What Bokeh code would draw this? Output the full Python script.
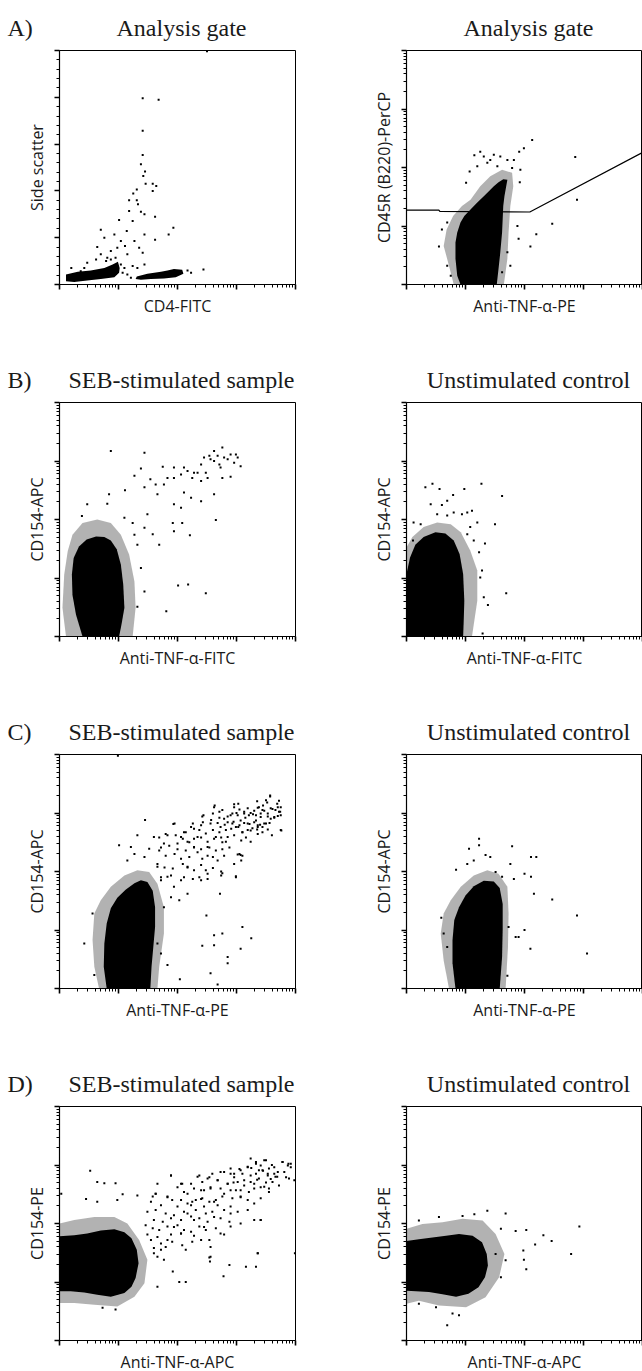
from bokeh.plotting import figure
from bokeh.layouts import column, row
from bokeh.models import FixedTicker, CustomJSTickFormatter, Range1d
from bokeh.core.properties import value
from bokeh.embed import file_html
from bokeh.resources import INLINE

# ---------------- texts ----------------
PANEL_LETTERS = ["A)", "B)", "C)", "D)"]
LEFT_TITLES = ["Analysis gate", "SEB-stimulated sample", "SEB-stimulated sample", "SEB-stimulated sample"]
RIGHT_TITLES = ["Analysis gate", "Unstimulated control", "Unstimulated control", "Unstimulated control"]
X_LABELS_LEFT = ["CD4-FITC", "Anti-TNF-\u03b1-FITC", "Anti-TNF-\u03b1-PE", "Anti-TNF-\u03b1-APC"]
X_LABELS_RIGHT = ["Anti-TNF-\u03b1-PE", "Anti-TNF-\u03b1-FITC", "Anti-TNF-\u03b1-PE", "Anti-TNF-\u03b1-APC"]
Y_LABELS_LEFT = ["Side scatter", "CD154-APC", "CD154-APC", "CD154-PE"]
Y_LABELS_RIGHT = ["CD45R (B220)-PerCP", "CD154-APC", "CD154-APC", "CD154-PE"]

# ---------------- data (fluorescence in log10 decades; side scatter linear) ----------------
# A left: CD4-FITC (log) vs side scatter (linear 0-1000)
A_L_core1_x = [0.11, 0.31, 0.53, 0.76, 0.90, 0.99, 1.02, 1.01, 0.93, 0.70, 0.47, 0.25, 0.11]
A_L_core1_y = [43, 54, 60, 71, 86, 97, 71, 50, 31, 23, 17, 11, 14]
A_L_core2_x = [1.31, 1.49, 1.72, 1.83, 1.94, 2.08, 2.10, 1.97, 1.77, 1.55, 1.38, 1.29]
A_L_core2_y = [34, 46, 54, 60, 66, 63, 46, 31, 26, 23, 20, 23]
A_L_dots_x = [1.41, 1.68, 1.41, 1.41, 1.38, 1.45, 1.42, 1.46, 1.58, 1.64, 1.58, 1.31, 1.25, 1.18, 1.31,
              1.33, 1.18, 1.38, 1.44, 1.62, 1.01, 0.70, 1.93, 1.85, 1.62, 1.14, 1.24, 1.04, 0.76, 0.64,
              0.93, 0.98, 1.11, 1.27, 1.35, 1.44, 1.41, 1.15, 0.81, 0.87, 0.95, 1.04, 1.10, 1.24, 1.32,
              1.44, 2.23, 2.44, 0.47, 0.36, 0.20, 0.70, 0.79, 0.62, 0.98, 1.07, 1.15, 1.21, 2.17, 2.50,
              0.42, 0.87]
A_L_dots_y = [796, 790, 657, 553, 514, 483, 464, 431, 431, 421, 400, 406, 389, 360, 360,
              343, 314, 311, 300, 289, 276, 234, 243, 214, 191, 229, 271, 186, 200, 160,
              214, 157, 164, 186, 157, 214, 136, 129, 114, 143, 114, 86, 71, 79, 71,
              86, 50, 64, 93, 57, 71, 129, 100, 107, 57, 50, 43, 29, 60, 997,
              71, 107]

# A right: Anti-TNF-a-PE vs CD45R(B220)-PerCP
A_R_gate_x = [0.0, 0.548, 0.565, 2.09, 4.0]
A_R_gate_y = [1.273, 1.273, 1.25, 1.239, 2.257]
A_R_core_x = [0.915, 0.86, 0.83, 0.83, 0.86, 0.915, 0.98, 1.085, 1.20, 1.31, 1.40, 1.48, 1.56, 1.64, 1.71,
              1.69, 1.66, 1.64, 1.63, 1.62, 1.59, 1.56, 1.53]
A_R_core_y = [0.0, 0.15, 0.44, 0.72, 0.89, 1.06, 1.17, 1.28, 1.40, 1.51, 1.60, 1.68, 1.75, 1.80, 1.79,
              1.68, 1.51, 1.34, 1.11, 0.89, 0.55, 0.27, 0.0]
A_R_fringe_x = [0.80, 0.72, 0.63, 0.68, 0.79, 0.94, 1.085, 1.25, 1.42, 1.62, 1.79, 1.81, 1.76, 1.73, 1.71, 1.65]
A_R_fringe_y = [0.0, 0.32, 0.66, 0.94, 1.17, 1.34, 1.45, 1.68, 1.85, 1.96, 1.91, 1.68, 1.34, 0.89, 0.44, 0.0]
A_R_dots_x = [0.55, 0.60, 0.69, 1.01, 1.15, 1.31, 1.48, 1.59, 1.71, 1.82, 1.91, 1.99, 2.13, 1.07, 1.20,
              1.37, 1.54, 1.79, 1.92, 1.88, 1.90, 2.20, 2.10, 2.47, 2.89, 2.86, 1.71, 1.76, 1.62, 0.69,
              0.75, 1.93, 1.25, 1.42]
A_R_dots_y = [0.65, 0.94, 1.06, 1.74, 2.21, 2.19, 2.22, 2.19, 2.13, 2.13, 2.27, 2.33, 2.47, 1.93, 2.02,
              2.08, 2.02, 1.99, 1.75, 1.00, 0.78, 0.86, 0.65, 1.04, 1.45, 2.18, 0.55, 0.32, 0.21, 0.32,
              0.15, 1.96, 2.27, 2.13]

# B left: SEB, Anti-TNF-a-FITC vs CD154-APC
B_L_core_x = [0.39, 0.28, 0.22, 0.21, 0.24, 0.33, 0.46, 0.62, 0.76, 0.87, 0.97, 1.04, 1.08, 1.10, 1.05, 1.01]
B_L_core_y = [0.0, 0.37, 0.71, 1.06, 1.34, 1.54, 1.66, 1.71, 1.70, 1.64, 1.49, 1.23, 0.89, 0.49, 0.20, 0.0]
B_L_fringe_x = [0.11, 0.05, 0.08, 0.14, 0.22, 0.39, 0.64, 0.87, 1.04, 1.18, 1.27, 1.29, 1.24]
B_L_fringe_y = [0.0, 0.49, 1.06, 1.46, 1.74, 1.94, 2.0, 1.94, 1.74, 1.40, 0.94, 0.49, 0.0]
B_L_dots_x = [0.87, 1.44, 1.38, 1.75, 1.27, 1.11, 1.44, 1.54, 1.63, 1.66, 1.83, 1.94, 2.06, 2.17, 2.25,
              2.34, 2.45, 2.54, 2.62, 2.71, 2.76, 2.79, 2.90, 2.96, 3.02, 3.07, 2.40, 2.51, 2.62, 2.76,
              2.90, 2.65, 2.40, 2.23, 2.11, 1.94, 2.06, 1.92, 2.08, 1.58, 1.69, 1.94, 2.21, 2.01, 2.18,
              2.48, 1.81, 1.44, 1.32, 0.47, 0.38, 0.81, 0.84, 1.10, 1.24, 1.49, 1.27, 1.44, 1.32, 1.38,
              2.56, 2.68, 2.85, 2.99, 2.73, 2.40, 2.28, 2.11, 1.94, 1.77, 2.62, 2.48]
B_L_dots_y = [3.17, 3.14, 2.87, 2.90, 2.75, 2.50, 2.55, 2.69, 2.60, 2.43, 2.71, 2.89, 2.77, 2.83, 2.71,
              2.80, 3.06, 3.09, 3.0, 2.94, 3.23, 3.06, 3.11, 2.97, 3.06, 2.91, 2.66, 2.71, 2.43, 2.71,
              2.73, 1.99, 2.31, 2.37, 2.46, 2.26, 2.20, 1.94, 1.94, 1.75, 1.57, 1.80, 1.73, 0.87, 0.89,
              0.74, 0.43, 0.77, 0.51, 2.26, 2.06, 2.27, 2.43, 2.03, 1.94, 2.09, 1.74, 1.86, 1.57, 1.17,
              3.03, 3.09, 3.03, 3.11, 2.89, 2.94, 2.80, 2.89, 2.71, 2.60, 3.17, 2.80]

# B right: unstimulated, Anti-TNF-a-FITC vs CD154-APC
B_R_core_x = [0.0, 0.0, 0.06, 0.15, 0.29, 0.49, 0.66, 0.80, 0.90, 0.96, 0.98, 0.97, 0.96]
B_R_core_y = [0.0, 1.07, 1.35, 1.57, 1.70, 1.78, 1.76, 1.64, 1.41, 1.07, 0.61, 0.27, 0.0]
B_R_fringe_x = [0.0, 0.0, 0.10, 0.29, 0.52, 0.75, 0.92, 1.08, 1.20, 1.20, 1.11]
B_R_fringe_y = [0.0, 1.52, 1.70, 1.87, 1.95, 1.92, 1.78, 1.47, 1.13, 0.61, 0.0]
B_R_dots_x = [0.32, 0.44, 0.56, 0.41, 0.60, 0.69, 0.79, 0.98, 1.27, 1.62, 1.11, 1.03, 0.94, 0.80, 0.69,
              0.52, 1.50, 1.33, 1.23, 1.28, 1.25, 1.31, 1.38, 1.29, 1.69, 1.14, 1.08, 1.20, 1.03, 0.24,
              0.12, 0.11]
B_R_dots_y = [2.55, 2.61, 2.52, 2.26, 2.25, 2.32, 2.42, 2.52, 2.61, 2.40, 2.15, 2.12, 2.09, 2.12, 2.07,
              2.09, 1.92, 1.59, 1.44, 1.13, 1.01, 0.67, 0.54, 0.05, 0.74, 1.64, 1.87, 1.95, 1.75, 1.92,
              1.95, 1.64]

# C left: SEB, Anti-TNF-a-PE vs CD154-APC
C_L_core_x = [0.80, 0.75, 0.76, 0.80, 0.87, 0.98, 1.12, 1.27, 1.38, 1.49, 1.58, 1.62, 1.62, 1.59, 1.56, 1.54]
C_L_core_y = [0.0, 0.37, 0.77, 1.11, 1.37, 1.55, 1.69, 1.80, 1.85, 1.82, 1.67, 1.39, 1.05, 0.71, 0.37, 0.0]
C_L_fringe_x = [0.67, 0.59, 0.56, 0.59, 0.70, 0.87, 1.10, 1.32, 1.52, 1.66, 1.77, 1.77, 1.69, 1.66]
C_L_fringe_y = [0.0, 0.37, 0.83, 1.28, 1.51, 1.74, 1.93, 2.02, 1.99, 1.79, 1.39, 0.94, 0.37, 0.0]
C_L_dots_x = [1.01, 1.32, 1.45, 1.21, 1.27, 1.15, 1.44, 1.52, 1.60, 1.69, 1.77, 1.83, 1.93, 2.0, 2.06,
              2.14, 2.20, 2.23, 2.28, 2.34, 2.40, 2.42, 2.48, 2.51, 2.56, 2.62, 2.65, 2.71, 2.73, 2.76,
              2.79, 2.85, 2.90, 2.96, 2.99, 3.03, 3.07, 3.10, 3.13, 3.19, 3.21, 3.24, 3.30, 3.33, 3.36,
              3.38, 3.41, 3.44, 3.47, 3.50, 3.53, 3.57, 3.61, 3.64, 3.69, 3.72, 3.75, 3.76, 3.05, 3.07,
              2.76, 2.99, 2.40, 2.51, 2.17, 2.06, 1.94, 1.83, 1.72, 1.66, 2.17, 2.03, 1.89, 1.77, 2.49,
              2.72, 3.10, 3.25, 2.62, 2.76, 2.42, 2.62, 2.85, 2.85, 3.07, 2.56, 2.68, 2.04, 1.83, 1.72,
              1.66, 0.56, 0.42, 0.59, 0.99, 3.28, 3.45, 3.58, 3.66, 3.40, 3.15, 3.70, 3.52, 3.35, 2.95,
              2.80, 3.00]
C_L_dots_y = [2.45, 2.62, 2.88, 2.42, 2.30, 2.19, 2.25, 2.39, 2.59, 2.36, 2.48, 2.62, 2.81, 2.48, 2.59,
              2.67, 2.50, 2.76, 2.42, 2.59, 2.79, 2.94, 2.65, 2.42, 2.82, 3.10, 2.59, 3.02, 2.76, 2.50,
              2.90, 2.59, 2.96, 3.10, 2.76, 3.16, 2.87, 2.67, 3.02, 2.82, 2.96, 2.70, 3.04, 2.87, 2.76,
              3.10, 2.93, 2.67, 3.04, 2.82, 2.99, 3.28, 3.07, 2.93, 3.16, 3.02, 3.10, 2.70, 2.30, 2.28,
              1.97, 1.92, 1.85, 1.96, 2.08, 1.85, 1.74, 1.91, 1.85, 2.08, 1.62, 1.51, 1.56, 1.39, 1.25,
              1.62, 1.05, 0.86, 0.91, 0.94, 0.73, 0.74, 0.54, 0.43, 0.68, 0.26, 0.07, 0.16, 0.40, 0.60,
              0.77, 1.28, 0.77, 0.23, 3.98, 2.98, 3.13, 2.90, 3.05, 2.80, 2.92, 2.95, 3.18, 3.20, 2.85,
              2.80, 3.00]
# C left, responding (TNF+ CD154+) cloud read in detail
C_L_cloud_x = [3.57, 3.72, 3.50, 2.63, 2.96, 2.76, 3.05, 3.19, 3.36, 3.44, 3.58, 3.70, 3.74,
               2.44, 2.60, 2.71, 2.85, 2.93, 3.02, 3.13, 3.24, 3.33, 3.41, 3.53, 3.64, 3.75,
               1.95, 2.26, 2.43, 2.57, 2.68, 2.85, 2.93, 3.05, 3.13, 3.22, 3.30, 3.36, 3.47, 3.56,
               2.11, 2.28, 2.37, 2.60, 2.71, 2.82, 2.91, 3.03, 3.10, 3.19, 3.27, 3.35, 3.44, 3.53, 3.60, 3.75,
               1.80, 1.97, 1.69, 2.09, 2.17, 2.28, 2.40, 2.51, 2.62, 2.74, 2.82, 2.96, 3.08, 3.16, 3.24, 3.36,
               1.72, 1.86, 2.0, 2.14, 2.28, 2.40, 2.54, 2.65, 2.76, 2.88,
               1.80, 1.95, 2.06, 2.20, 2.34, 2.42, 2.51, 2.60, 2.68, 2.79, 3.02, 3.10, 3.08,
               1.66, 1.78, 1.92, 2.09, 2.17, 2.28, 2.40, 2.48, 2.60, 2.74, 2.96,
               1.72, 1.89, 2.11, 2.26, 2.37, 2.51, 2.74, 2.99]
C_L_cloud_y = [3.30, 3.21, 3.22, 3.13, 3.15, 3.05, 3.06, 3.08, 3.09, 3.05, 3.08, 3.10, 3.02,
               2.96, 2.99, 2.92, 2.94, 2.99, 2.96, 2.99, 3.0, 2.96, 2.99, 2.94, 2.92, 2.96,
               2.82, 2.82, 2.84, 2.88, 2.83, 2.84, 2.82, 2.79, 2.83, 2.81, 2.84, 2.79, 2.82, 2.83,
               2.67, 2.73, 2.71, 2.71, 2.67, 2.71, 2.73, 2.76, 2.67, 2.71, 2.74, 2.72, 2.76, 2.72, 2.62, 2.71,
               2.64, 2.62, 2.58, 2.56, 2.51, 2.56, 2.58, 2.51, 2.56, 2.58, 2.51, 2.62, 2.53, 2.58, 2.51, 2.64,
               2.41, 2.44, 2.38, 2.36, 2.41, 2.38, 2.41, 2.36, 2.38, 2.41,
               2.27, 2.30, 2.22, 2.25, 2.33, 2.22, 2.27, 2.25, 2.19, 2.27, 2.29, 2.27, 2.19,
               2.13, 2.07, 2.05, 2.13, 2.07, 2.02, 2.11, 2.02, 2.06, 2.0, 2.13,
               1.90, 1.93, 1.90, 1.87, 1.90, 1.87, 1.93, 1.90]

# C right: unstimulated, Anti-TNF-a-PE vs CD154-APC
C_R_core_x = [0.83, 0.78, 0.78, 0.81, 0.89, 1.0, 1.14, 1.31, 1.48, 1.58, 1.63, 1.63, 1.62, 1.58]
C_R_core_y = [0.0, 0.43, 0.83, 1.17, 1.39, 1.59, 1.75, 1.84, 1.83, 1.72, 1.45, 1.0, 0.54, 0.0]
C_R_fringe_x = [0.72, 0.63, 0.58, 0.63, 0.75, 0.92, 1.14, 1.37, 1.56, 1.71, 1.73, 1.72, 1.68]
C_R_fringe_y = [0.0, 0.48, 0.94, 1.28, 1.51, 1.74, 1.93, 2.02, 1.96, 1.74, 1.28, 0.71, 0.0]
C_R_dots_x = [1.23, 1.23, 1.06, 0.84, 1.03, 1.14, 1.34, 1.42, 1.51, 1.62, 1.76, 1.79, 1.82, 2.0, 2.11,
              2.20, 2.11, 2.16, 2.47, 2.89, 3.06, 2.0, 2.10, 1.90, 1.85, 1.71, 1.73, 0.59, 0.63, 0.69]
C_R_dots_y = [2.56, 2.45, 2.39, 2.03, 2.13, 2.19, 2.28, 2.25, 1.99, 1.91, 2.13, 2.43, 1.87, 1.96, 2.25,
              2.25, 1.91, 1.62, 1.52, 1.25, 0.60, 1.0, 0.68, 0.88, 0.88, 0.22, 1.05, 1.21, 0.94, 0.71]

# D left: SEB, Anti-TNF-a-APC vs CD154-PE
D_L_core_x = [0.0, 0.25, 0.47, 0.70, 0.93, 1.10, 1.22, 1.31, 1.34, 1.29, 1.22, 1.10, 0.87, 0.64, 0.42, 0.19, 0.0]
D_L_core_y = [1.78, 1.80, 1.83, 1.88, 1.90, 1.85, 1.75, 1.55, 1.32, 1.07, 0.92, 0.81, 0.75, 0.78, 0.82, 0.84, 0.84]
D_L_fringe_x = [0.0, 0.25, 0.59, 0.93, 1.15, 1.35, 1.49, 1.44, 1.27, 0.98, 0.59, 0.25, 0.0]
D_L_fringe_y = [2.0, 2.06, 2.11, 2.11, 2.0, 1.72, 1.38, 0.98, 0.75, 0.58, 0.61, 0.64, 0.64]
D_L_dots_x = [0.52, 0.64, 0.76, 0.95, 0.03, 0.45, 0.64, 0.98, 1.07, 1.32, 1.55, 1.63, 1.83, 1.89, 2.0,
              2.08, 2.17, 2.25, 2.34, 2.40, 2.45, 2.54, 2.56, 2.62, 2.68, 2.73, 2.79, 2.85, 2.90, 2.96,
              2.99, 3.05, 3.07, 3.13, 3.19, 3.21, 3.24, 3.30, 3.33, 3.38, 3.41, 3.47, 3.53, 3.58, 3.64,
              3.72, 3.78, 3.84, 3.88, 3.92, 3.98, 2.17, 2.28, 2.45, 2.62, 2.73, 2.90, 3.07, 3.19, 3.30,
              3.41, 1.94, 2.06, 1.83, 1.72, 1.60, 1.77, 1.92, 2.14, 2.40, 2.54, 2.55, 2.78, 2.88, 3.16,
              3.33, 3.36, 2.03, 2.14, 1.66, 3.99, 0.73, 0.95, 3.45, 3.60, 3.50, 3.70, 3.25, 3.10, 2.95,
              3.35, 3.66, 3.55]
D_L_dots_y = [2.90, 2.71, 2.69, 2.69, 2.51, 2.42, 2.37, 2.40, 2.50, 2.48, 2.37, 2.51, 2.45, 2.82, 2.62,
              2.68, 2.51, 2.37, 2.80, 2.42, 2.57, 2.79, 2.62, 2.37, 2.74, 2.88, 2.51, 2.68, 2.85, 2.79,
              2.57, 2.93, 2.45, 2.74, 2.96, 2.54, 2.82, 2.68, 3.02, 2.91, 2.62, 3.08, 2.85, 2.76, 2.96,
              2.65, 3.05, 2.79, 3.02, 2.96, 2.74, 2.17, 2.06, 1.94, 2.11, 1.83, 2.17, 2.0, 2.23, 2.06,
              2.06, 1.94, 1.83, 1.72, 1.55, 1.49, 1.38, 1.18, 1.55, 1.72, 1.42, 1.35, 1.10, 1.29, 1.26,
              1.26, 1.49, 1.0, 1.0, 0.92, 1.49, 0.56, 0.53, 2.90, 3.00, 2.70, 2.88, 2.95, 2.85, 2.70,
              2.75, 2.80, 2.60]
# D left, responding (TNF+ CD154+) cloud read in detail
D_L_cloud_x = [3.24, 3.33, 3.41, 3.50, 3.78, 3.87, 3.92, 3.19, 3.07, 2.96, 2.79, 2.90, 3.44, 3.55, 3.64,
               3.69, 3.53, 3.33, 3.38, 3.61, 3.81, 3.89, 1.89, 2.37, 2.59,
               2.06, 2.23, 2.42, 2.51, 2.68, 2.85, 3.02, 3.13, 3.24, 3.07, 3.30, 3.47, 3.55, 2.90, 2.73,
               2.56, 2.40, 2.28, 2.11, 1.66, 1.63,
               1.58, 1.83, 1.91, 2.06, 2.17, 2.31, 2.42, 2.54, 2.65, 2.76, 2.93, 3.07, 3.19, 3.30, 3.41,
               1.72, 2.0, 2.23, 2.45, 2.68, 2.90,
               1.49, 1.63, 1.80, 1.94, 2.11, 2.31, 2.48, 2.59, 2.79, 3.02, 1.60, 1.75, 1.89, 2.06, 2.23,
               2.37, 2.51, 2.73, 2.88, 3.41,
               1.46, 1.58, 1.69, 1.83, 2.0, 2.11, 2.23, 2.37, 2.48, 2.65, 2.90, 1.49, 1.66, 1.89, 2.06,
               2.28, 2.79,
               1.55, 1.72, 1.91, 2.08, 2.25, 2.54, 2.56, 1.60, 1.80, 3.36, 2.56, 1.66]
D_L_cloud_y = [3.11, 3.05, 2.99, 3.08, 3.05, 2.99, 3.02, 2.97, 2.91, 2.85, 2.88, 2.94, 2.91, 2.94, 2.85,
               2.80, 2.82, 2.85, 2.77, 2.71, 2.88, 2.77, 2.82, 2.82, 2.85,
               2.68, 2.68, 2.71, 2.77, 2.74, 2.68, 2.71, 2.65, 2.71, 2.57, 2.60, 2.63, 2.54, 2.57, 2.60,
               2.60, 2.57, 2.60, 2.54, 2.68, 2.51,
               2.46, 2.46, 2.40, 2.40, 2.34, 2.40, 2.43, 2.37, 2.40, 2.46, 2.43, 2.46, 2.40, 2.34, 2.43,
               2.31, 2.29, 2.31, 2.29, 2.31, 2.29,
               2.20, 2.23, 2.17, 2.14, 2.20, 2.23, 2.17, 2.20, 2.23, 2.20, 2.06, 2.03, 2.09, 2.06, 2.12,
               2.09, 2.03, 2.09, 2.03, 2.06,
               1.97, 1.92, 1.89, 1.95, 1.97, 1.89, 1.86, 1.95, 1.89, 1.92, 1.95, 1.81, 1.77, 1.81, 1.83,
               1.79, 1.81,
               1.72, 1.66, 1.69, 1.63, 1.69, 1.72, 1.60, 1.58, 1.60, 1.49, 1.43, 1.43]

# D right: unstimulated, Anti-TNF-a-APC vs CD154-PE
D_R_core_x = [0.0, 0.21, 0.44, 0.67, 0.89, 1.12, 1.28, 1.36, 1.38, 1.33, 1.22, 1.05, 0.84, 0.61, 0.38, 0.16, 0.0]
D_R_core_y = [1.70, 1.73, 1.76, 1.79, 1.82, 1.79, 1.68, 1.48, 1.28, 1.08, 0.91, 0.80, 0.75, 0.79, 0.83, 0.84, 0.85]
D_R_fringe_x = [0.0, 0.27, 0.61, 0.95, 1.29, 1.51, 1.66, 1.57, 1.34, 1.01, 0.55, 0.21, 0.0]
D_R_fringe_y = [1.91, 1.99, 2.02, 2.08, 2.05, 1.82, 1.48, 1.08, 0.74, 0.57, 0.60, 0.68, 0.63]
D_R_dots_x = [0.21, 0.55, 0.95, 1.15, 1.37, 1.68, 1.60, 1.85, 2.03, 2.18, 2.32, 2.46, 1.98, 1.99, 2.03,
              2.93, 2.79, 1.60, 1.51, 1.68, 0.69, 0.89, 0.78, 0.21, 0.50]
D_R_dots_y = [2.05, 2.11, 2.13, 2.16, 2.22, 2.17, 1.91, 1.87, 1.89, 1.64, 1.80, 1.70, 1.54, 1.38, 1.22,
              1.95, 1.48, 1.08, 1.48, 1.37, 0.26, 0.43, 0.46, 0.63, 0.57]

# ---------------- ticks ----------------
LOG_MAJOR = [1, 10, 100, 1000, 10000]
LOG_MINOR = [m * 10 ** d for d in range(4) for m in range(2, 10)]
LIN_MAJOR = [0, 200, 400, 600, 800, 1000]
LIN_MINOR = [v for v in range(0, 1001, 40) if v % 200]

# ---------------- layout constants (pixels) ----------------
PAGE_W = 642
FRAME_W, FRAME_H = 236, 234
HEAD_H = 44
TOP = 6
LEFT_W, RIGHT_W = 320, 322
LEFT_BL, RIGHT_BL = 59, 86
PANEL_H = [308, 308, 308, 282]
TITLE_BASE = 27.5
LETTER_X = 7
LEFT_TITLE_CX = 181
RIGHT_TITLE_CX = 528
SERIF = "Liberation Serif"
SANS = "Open Sans"
INK = "#1a1a1a"


def dec(vals):
    return [10 ** v for v in vals]


def make_header(letter, t_left, t_right):
    h = figure(width=PAGE_W, height=HEAD_H, output_backend="svg", toolbar_location=None, title=None,
               x_range=Range1d(0, PAGE_W), y_range=Range1d(0, HEAD_H),
               x_axis_location=None, y_axis_location=None, min_border=0,
               min_border_left=0, min_border_right=0, min_border_top=0, min_border_bottom=0,
               background_fill_color="white", border_fill_color="white", outline_line_color=None)
    h.xgrid.visible = False
    h.ygrid.visible = False
    yb = HEAD_H - TITLE_BASE
    h.text(x=[LETTER_X], y=[yb], text=[letter], text_align="left", text_baseline="alphabetic",
           text_font=value(SERIF), text_font_size="24px", text_color=INK)
    h.text(x=[LEFT_TITLE_CX, RIGHT_TITLE_CX], y=[yb, yb], text=[t_left, t_right], text_align="center",
           text_baseline="alphabetic", text_font=value(SERIF), text_font_size="24px", text_color=INK)
    return h


def make_fig(width, b_left, b_right, height, xlabel, ylabel, y_linear=False):
    p = figure(width=width, height=height, output_backend="svg", toolbar_location=None, title=None,
               x_axis_type="log", y_axis_type=("linear" if y_linear else "log"),
               x_range=Range1d(1, 10 ** 4),
               y_range=(Range1d(0, 1000) if y_linear else Range1d(1, 10 ** 4)),
               min_border_left=b_left, min_border_right=b_right,
               min_border_top=TOP, min_border_bottom=height - TOP - FRAME_H,
               background_fill_color="white", border_fill_color="white")
    p.xgrid.visible = False
    p.ygrid.visible = False
    p.outline_line_color = "black"
    p.outline_line_width = 1
    p.xaxis.ticker = FixedTicker(ticks=LOG_MAJOR, minor_ticks=LOG_MINOR)
    if y_linear:
        p.yaxis.ticker = FixedTicker(ticks=LIN_MAJOR, minor_ticks=LIN_MINOR)
    else:
        p.yaxis.ticker = FixedTicker(ticks=LOG_MAJOR, minor_ticks=LOG_MINOR)
    p.xaxis.axis_label = xlabel
    p.yaxis.axis_label = ylabel
    for ax in (p.xaxis[0], p.yaxis[0]):
        ax.formatter = CustomJSTickFormatter(code="return ''")
        ax.major_label_text_font_size = "0px"
        ax.major_label_standoff = 0
        ax.major_tick_in = 0
        ax.major_tick_out = 5
        ax.minor_tick_in = 0
        ax.minor_tick_out = 3
        ax.major_tick_line_width = 1.6
        ax.minor_tick_line_width = 1
        ax.axis_line_width = 1.2
        ax.axis_label_text_font = SANS
        ax.axis_label_text_font_size = "16px"
        ax.axis_label_text_font_style = "normal"
        ax.axis_label_text_color = INK
    p.xaxis[0].axis_label_standoff = 5
    p.yaxis[0].axis_label_standoff = 7
    return p


def draw_dots(p, dots, y_linear=False):
    ty = (lambda v: v) if y_linear else dec
    p.scatter(dec(dots[0]), ty(dots[1]), marker="square", size=2, fill_color="black", line_color=None)


def draw_cloud(p, fringe, core, dots, y_linear=False):
    ty = (lambda v: v) if y_linear else dec
    if fringe is not None:
        p.patch(dec(fringe[0]), ty(fringe[1]), fill_color="black", fill_alpha=0.3, line_color=None)
    for c in core:
        p.patch(dec(c[0]), ty(c[1]), fill_color="black", fill_alpha=1.0, line_color=None)
    draw_dots(p, dots, y_linear)


panels = [
    (None, [(A_L_core1_x, A_L_core1_y), (A_L_core2_x, A_L_core2_y)], (A_L_dots_x, A_L_dots_y),
     (A_R_fringe_x, A_R_fringe_y), [(A_R_core_x, A_R_core_y)], (A_R_dots_x, A_R_dots_y)),
    ((B_L_fringe_x, B_L_fringe_y), [(B_L_core_x, B_L_core_y)], (B_L_dots_x, B_L_dots_y),
     (B_R_fringe_x, B_R_fringe_y), [(B_R_core_x, B_R_core_y)], (B_R_dots_x, B_R_dots_y)),
    ((C_L_fringe_x, C_L_fringe_y), [(C_L_core_x, C_L_core_y)], (C_L_dots_x, C_L_dots_y),
     (C_R_fringe_x, C_R_fringe_y), [(C_R_core_x, C_R_core_y)], (C_R_dots_x, C_R_dots_y)),
    ((D_L_fringe_x, D_L_fringe_y), [(D_L_core_x, D_L_core_y)], (D_L_dots_x, D_L_dots_y),
     (D_R_fringe_x, D_R_fringe_y), [(D_R_core_x, D_R_core_y)], (D_R_dots_x, D_R_dots_y)),
]
extra_left_dots = {2: (C_L_cloud_x, C_L_cloud_y), 3: (D_L_cloud_x, D_L_cloud_y)}

blocks = []
for i in range(4):
    lf, lc, ld, rf, rc, rd = panels[i]
    lin = (i == 0)
    header = make_header(PANEL_LETTERS[i], LEFT_TITLES[i], RIGHT_TITLES[i])
    pl = make_fig(LEFT_W, LEFT_BL, LEFT_W - LEFT_BL - FRAME_W, PANEL_H[i], X_LABELS_LEFT[i], Y_LABELS_LEFT[i],
                  y_linear=lin)
    draw_cloud(pl, lf, lc, ld, y_linear=lin)
    if i in extra_left_dots:
        draw_dots(pl, extra_left_dots[i])
    pr = make_fig(RIGHT_W, RIGHT_BL, RIGHT_W - RIGHT_BL - FRAME_W, PANEL_H[i], X_LABELS_RIGHT[i],
                  Y_LABELS_RIGHT[i])
    draw_cloud(pr, rf, rc, rd)
    if i == 0:
        pr.line(dec(A_R_gate_x), dec(A_R_gate_y), line_color="black", line_width=1.2)
    blocks.append(header)
    blocks.append(row(pl, pr, spacing=0))

layout = column(*blocks, spacing=0)
open("out.html", "w").write(file_html(layout, INLINE))
